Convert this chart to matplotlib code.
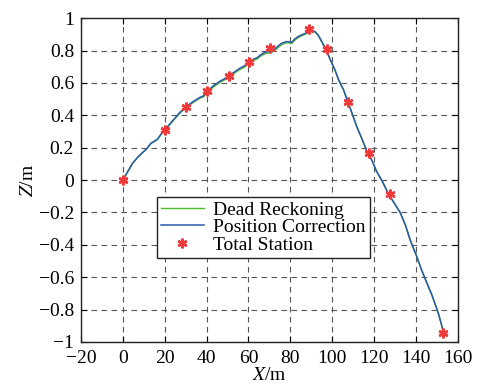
import matplotlib
matplotlib.use("Agg")
import matplotlib.pyplot as plt

plt.rcParams['font.family'] = ['Liberation Serif', 'DejaVu Serif']
plt.rcParams['mathtext.fontset'] = 'stix'

# Position Correction trajectory
pc_x = [0, 2, 4.7, 7, 9.4, 11.5, 13.4, 15, 16.6, 18, 19.8, 22, 24.7, 27, 30, 33, 36.7, 38.5, 40, 43,
        46.3, 48.5, 50.6, 53, 55.8, 58, 60, 62, 64, 66, 68, 70, 71.5, 73, 75.8, 78, 79, 80.6, 82,
        83.5, 85.4, 87, 89, 90.5, 91.7, 93.3, 95, 97.3, 99, 101.3, 103, 105.3, 107.7, 109.5,
        111.7, 114, 116.5, 119, 121.2, 124, 126.8, 129.5, 132.4, 135, 137.2, 140, 142.8, 145,
        147.6, 149.5, 150.7, 152, 153.3]
pc_z = [0, 0.045, 0.105, 0.14, 0.17, 0.195, 0.228, 0.24, 0.254, 0.28, 0.307, 0.34, 0.38, 0.415,
        0.45, 0.48, 0.51, 0.52, 0.545, 0.58, 0.61, 0.625, 0.645, 0.665, 0.69, 0.705, 0.725,
        0.745, 0.755, 0.775, 0.79, 0.795, 0.80, 0.815, 0.845, 0.855, 0.855, 0.85, 0.87, 0.885,
        0.897, 0.905, 0.918, 0.92, 0.918, 0.895, 0.855, 0.80, 0.745, 0.68, 0.62, 0.56, 0.475,
        0.41, 0.33, 0.26, 0.18, 0.12, 0.053, -0.01, -0.085, -0.14, -0.2, -0.28, -0.37, -0.46,
        -0.56, -0.63, -0.71, -0.78, -0.825, -0.885, -0.955]

# Dead Reckoning trajectory (nearly identical, slight offsets)
dr_x = pc_x
dr_z = [0, 0.044, 0.103, 0.138, 0.168, 0.193, 0.225, 0.237, 0.251, 0.277, 0.303, 0.336, 0.376,
        0.41, 0.445, 0.474, 0.505, 0.513, 0.537, 0.572, 0.603, 0.618, 0.638, 0.658, 0.682,
        0.697, 0.716, 0.737, 0.747, 0.767, 0.781, 0.786, 0.792, 0.806, 0.836, 0.847, 0.847,
        0.843, 0.862, 0.878, 0.891, 0.9, 0.914, 0.917, 0.916, 0.893, 0.853, 0.798, 0.743,
        0.679, 0.619, 0.559, 0.474, 0.409, 0.329, 0.259, 0.179, 0.119, 0.052, -0.011, -0.086,
        -0.141, -0.201, -0.281, -0.371, -0.461, -0.561, -0.631, -0.711, -0.781, -0.826,
        -0.886, -0.956]

# Total Station measurements
ts_x = [0, 20, 30, 40.4, 50.6, 60.3, 70.2, 88.8, 97.6, 107.4, 117.5, 127.6, 152.8]
ts_z = [0, 0.31, 0.45, 0.55, 0.645, 0.73, 0.815, 0.93, 0.81, 0.48, 0.165, -0.089, -0.945]

xticks = [-20, 0, 20, 40, 60, 80, 100, 120, 140, 160]
yticks = [-1, -0.8, -0.6, -0.4, -0.2, 0, 0.2, 0.4, 0.6, 0.8, 1]
ytick_labels = ['\u22121', '\u22120.8', '\u22120.6', '\u22120.4', '\u22120.2', '0', '0.2', '0.4', '0.6', '0.8', '1']
xtick_labels = ['\u221220', '0', '20', '40', '60', '80', '100', '120', '140', '160']

fig = plt.figure(figsize=(4.79, 3.86), dpi=100)
ax = fig.add_axes([0.169, 0.114, 0.787, 0.839])

ax.plot(dr_x, dr_z, color='#4cbb2c', lw=1.0, label='Dead Reckoning')
ax.plot(pc_x, pc_z, color='#2a5aa8', lw=1.1, label='Position Correction')
ax.plot(ts_x, ts_z, linestyle='none', marker=(6, 2, 0), markersize=7, markeredgewidth=1.8,
        color='#f03a3a', label='Total Station')

ax.set_xlim(-20, 160)
ax.set_ylim(-1, 1)
ax.set_xticks(xticks)
ax.set_xticklabels(xtick_labels)
ax.set_yticks(yticks)
ax.set_yticklabels(ytick_labels)
ax.tick_params(direction='in', top=True, right=True, labelsize=14, length=4, width=0.8)
ax.tick_params(axis='x', pad=6)
ax.tick_params(axis='y', pad=5)
ax.grid(True, linestyle=(0, (5, 4)), color='#555555', linewidth=0.8)
for s in ax.spines.values():
    s.set_linewidth(1.0)
    s.set_color('#222222')

ax.set_xlabel('$X$/m', fontsize=14, labelpad=0)
ax.set_ylabel('$Z$/m', fontsize=14, labelpad=1)

leg = ax.legend(loc='upper left', bbox_to_anchor=(0.2016, 0.4475), fontsize=14, frameon=True,
                fancybox=False, edgecolor='#222222', framealpha=1, labelspacing=0.0,
                handlelength=2.2, handletextpad=0.5, borderpad=0.2, borderaxespad=0)
leg.get_frame().set_linewidth(1.0)

fig.savefig('out.png', dpi=100)
